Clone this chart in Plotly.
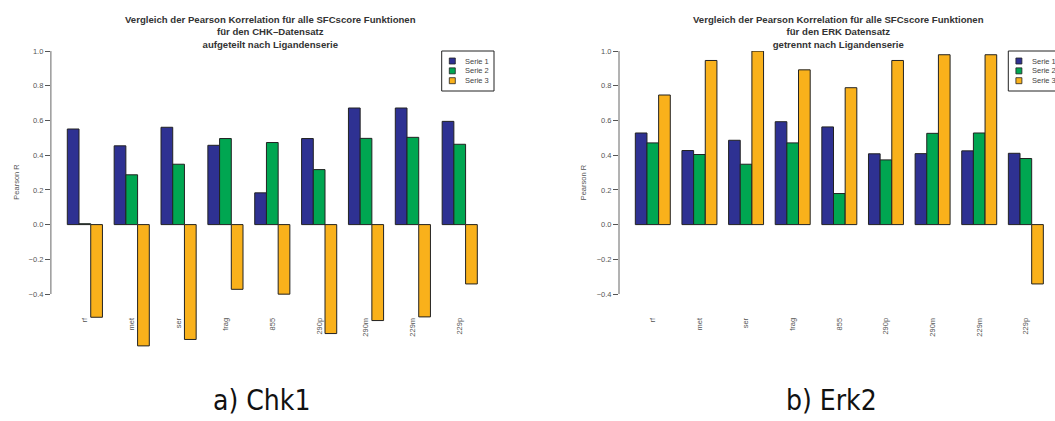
import plotly.graph_objects as go

W, H = 1055, 421

# Ligandenserien / SFCscore-Funktionen
functions = ["rf", "met", "ser", "frag", "855", "290p", "290m", "229m", "229p"]
series_names = ["Serie 1", "Serie 2", "Serie 3"]
series_colors = ["#2E3192", "#00A651", "#F9B11B"]

# Pearson R, CHK-Datensatz
chk_serie1 = [0.551, 0.454, 0.561, 0.457, 0.183, 0.496, 0.672, 0.672, 0.595]
chk_serie2 = [0.005, 0.287, 0.348, 0.496, 0.473, 0.317, 0.497, 0.503, 0.463]
chk_serie3 = [-0.534, -0.699, -0.662, -0.373, -0.401, -0.628, -0.553, -0.532, -0.342]

# Pearson R, ERK-Datensatz
erk_serie1 = [0.528, 0.427, 0.486, 0.593, 0.563, 0.408, 0.409, 0.425, 0.411]
erk_serie2 = [0.471, 0.404, 0.348, 0.471, 0.179, 0.373, 0.526, 0.528, 0.381]
erk_serie3 = [0.747, 0.946, 1.0, 0.892, 0.789, 0.946, 0.979, 0.979, -0.342]

y_ticks = [-0.4, -0.2, 0.0, 0.2, 0.4, 0.6, 0.8, 1.0]

titles = [
    "Vergleich der Pearson Korrelation für alle SFCscore Funktionen<br>"
    "für den CHK\u2013Datensatz<br>aufgeteilt nach Ligandenserie",
    "Vergleich der Pearson Korrelation für alle SFCscore Funktionen<br>"
    "für den ERK Datensatz<br>getrennt nach Ligandenserie",
]
captions = ["a) Chk1", "b) Erk2"]


def px(x):
    return x / W


def py(y):
    return 1 - y / H


fig = go.Figure()

panels = [
    (chk_serie1, chk_serie2, chk_serie3),
    (erk_serie1, erk_serie2, erk_serie3),
]

# pixel geometry of the two plot regions
x_left = [50.9, 619.0]
x_right = [493.7, 1055.0]
x_range = [[-0.725, 8.725], [-0.725, 8.625]]
y_top_px, y_bot_px = 51.1, 363.4
y_range = [-0.80, 1.0]
axis_bottom_px = 311.4  # level of -0.5, where the category labels hang
title_cx = [270.5, 838.5]
caption_cx = [261, 831]
ylabel_x = [15.7, 583.3]
legend_left = [441.7, 1008.3]

grey = "#555555"
font_main = "Liberation Sans, Arial, sans-serif"

for p, data in enumerate(panels):
    xa = "x" if p == 0 else "x2"
    ya = "y" if p == 0 else "y2"
    for s, vals in enumerate(data):
        fig.add_trace(go.Bar(
            x=list(range(len(functions))), y=vals, name=series_names[s],
            marker=dict(color=series_colors[s], line=dict(color="#222222", width=1)),
            xaxis=xa, yaxis=ya, showlegend=False,
        ))

    axis_kw = dict(
        domain=[px(x_left[p]), px(x_right[p])], range=x_range[p],
        anchor="free", position=py(axis_bottom_px),
        tickmode="array", tickvals=list(range(len(functions))), ticktext=functions,
        tickangle=-90, ticks="", showline=False, showgrid=False, zeroline=False,
        tickfont=dict(family=font_main, size=7.5, color=grey),
        ticklabelstandoff=4,
    )
    yaxis_kw = dict(
        domain=[py(y_bot_px), py(y_top_px)], range=y_range,
        anchor=xa, tickmode="array", tickvals=y_ticks,
        ticktext=[f"{v:.1f}".replace("-", "\u2212") for v in y_ticks],
        ticks="outside", ticklen=5, tickcolor="#555555", tickwidth=1,
        showline=False, showgrid=False, zeroline=False,
        tickfont=dict(family=font_main, size=7.5, color=grey),
    )
    if p == 0:
        fig.update_layout(xaxis=axis_kw, yaxis=yaxis_kw)
    else:
        fig.update_layout(xaxis2=axis_kw, yaxis2=yaxis_kw)

    # y axis line spanning the labelled ticks only
    fig.add_shape(type="line", xref=f"{xa} domain", yref=ya,
                  x0=0, x1=0, y0=y_ticks[0], y1=y_ticks[-1],
                  line=dict(color="#666666", width=1))

    # three-line title
    fig.add_annotation(x=px(title_cx[p]), y=py(11.5), xref="paper", yref="paper",
                       text="<b>" + titles[p].replace("<br>", "</b><br><b>") + "</b>",
                       showarrow=False, xanchor="center", yanchor="top",
                       font=dict(family=font_main, size=9.6, color="#333333"))

    # y axis title
    fig.add_annotation(x=px(ylabel_x[p]), y=py(182), xref="paper", yref="paper",
                       text="Pearson R", textangle=-90, showarrow=False,
                       xanchor="center", yanchor="middle",
                       font=dict(family=font_main, size=7.5, color=grey))

    # legend box
    lx = legend_left[p]
    fig.add_shape(type="rect", xref="paper", yref="paper",
                  x0=px(lx), x1=px(lx + 52.3), y0=py(91), y1=py(51),
                  line=dict(color="#222222", width=1), fillcolor="white")
    for s in range(3):
        cy = 61 + s * 9.85
        fig.add_shape(type="rect", xref="paper", yref="paper",
                      x0=px(lx + 7.6), x1=px(lx + 13.6), y0=py(cy + 3), y1=py(cy - 3),
                      line=dict(color="#222222", width=0.8), fillcolor=series_colors[s])
        fig.add_annotation(x=px(lx + 21.5), y=py(cy), xref="paper", yref="paper",
                           text=series_names[s], showarrow=False,
                           xanchor="left", yanchor="middle",
                           font=dict(family=font_main, size=7.5, color="#444444"))

    # sub-figure caption
    fig.add_annotation(x=px(caption_cx[p]), y=py(400), xref="paper", yref="paper",
                       text=captions[p], showarrow=False,
                       xanchor="center", yanchor="middle",
                       font=dict(family="DejaVu Sans Condensed, DejaVu Sans, sans-serif",
                                 size=28, color="#111111"))

fig.update_layout(
    width=W, height=H,
    margin=dict(l=0, r=0, t=0, b=0, autoexpand=False),
    paper_bgcolor="white", plot_bgcolor="white",
    barmode="group", bargap=0.25, bargroupgap=0,
    showlegend=False,
)

fig.write_html("out.html")
